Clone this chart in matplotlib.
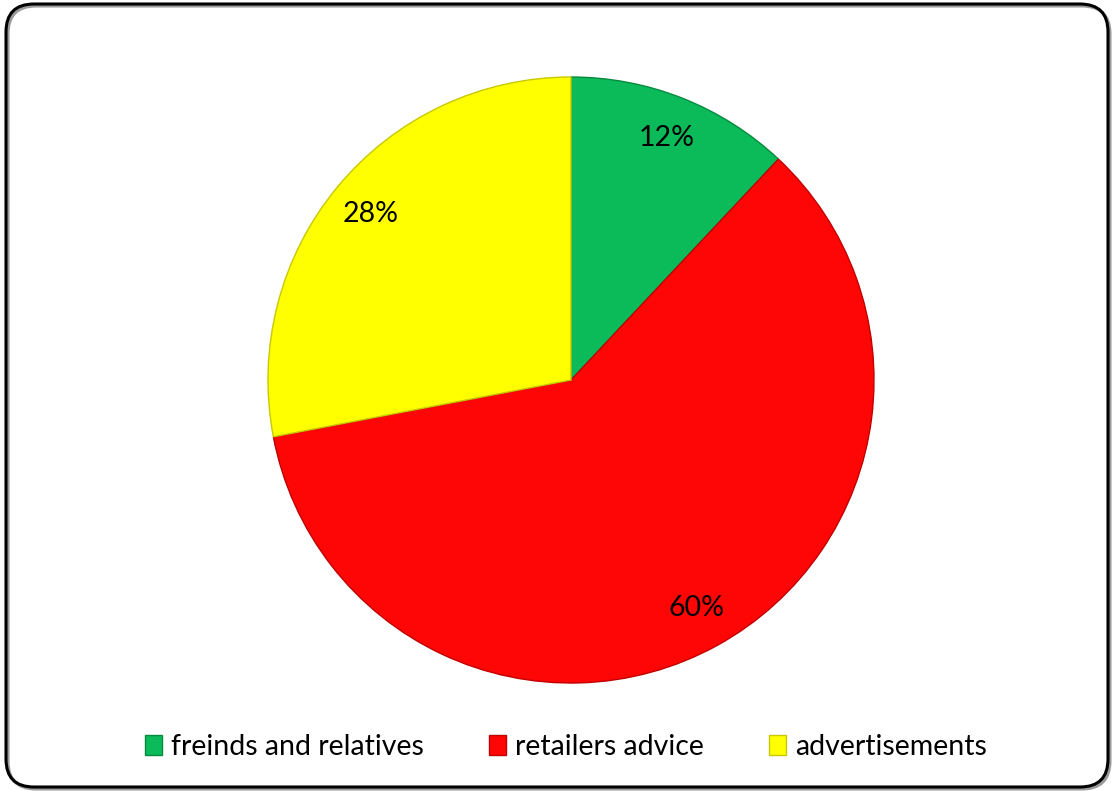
import matplotlib
matplotlib.use("Agg")
import matplotlib.pyplot as plt
from matplotlib.patches import FancyBboxPatch, Patch
from matplotlib.transforms import IdentityTransform

categories = ["freinds and relatives", "retailers advice", "advertisements"]
values = [12, 60, 28]
colors = ["#0BBB5A", "#FF0606", "#FFFF00"]
edge_colors = ["#078A40", "#C00000", "#C8C800"]

plt.rcParams['font.family'] = ['Lato', 'DejaVu Sans']

W, H, DPI = 1113, 791, 100
fig = plt.figure(figsize=(W / DPI, H / DPI), dpi=DPI)
fig.patch.set_facecolor("white")

# rounded border with slight shadow
shadow = FancyBboxPatch((8, 2), 1102, 783, boxstyle="round,pad=0,rounding_size=28",
                        transform=IdentityTransform(), facecolor="none",
                        edgecolor="#9a9a9a", linewidth=2.2, zorder=0)
fig.patches.append(shadow)
border = FancyBboxPatch((6, 4), 1102, 783, boxstyle="round,pad=0,rounding_size=28",
                        transform=IdentityTransform(), facecolor="none",
                        edgecolor="black", linewidth=2.2, zorder=1)
fig.patches.append(border)

cx, cy, r = 571, 380, 303
ax = fig.add_axes([(cx - r) / W, (H - cy - r) / H, 2 * r / W, 2 * r / H])
wedges, texts, autotexts = ax.pie(
    values, colors=colors, startangle=90, counterclock=False,
    autopct="%d%%", pctdistance=0.86, radius=1,
    wedgeprops=dict(linewidth=1.0),
    textprops=dict(fontsize=20.5, color="black"))
for w, ec in zip(wedges, edge_colors):
    w.set_edgecolor(ec)
ax.set_xlim(-1, 1)
ax.set_ylim(-1, 1)
ax.set_aspect("equal")
ax.axis("off")

handles = [Patch(facecolor=c, edgecolor=ec, linewidth=1) for c, ec in zip(colors, edge_colors)]
fig.legend(handles, categories, loc="center", bbox_to_anchor=(566 / W, 1 - 747 / H),
           ncol=3, frameon=False, fontsize=20.5, handlelength=0.6, handleheight=0.65,
           handletextpad=0.3, columnspacing=2.3)

fig.savefig("out.png", dpi=DPI, facecolor="white")
